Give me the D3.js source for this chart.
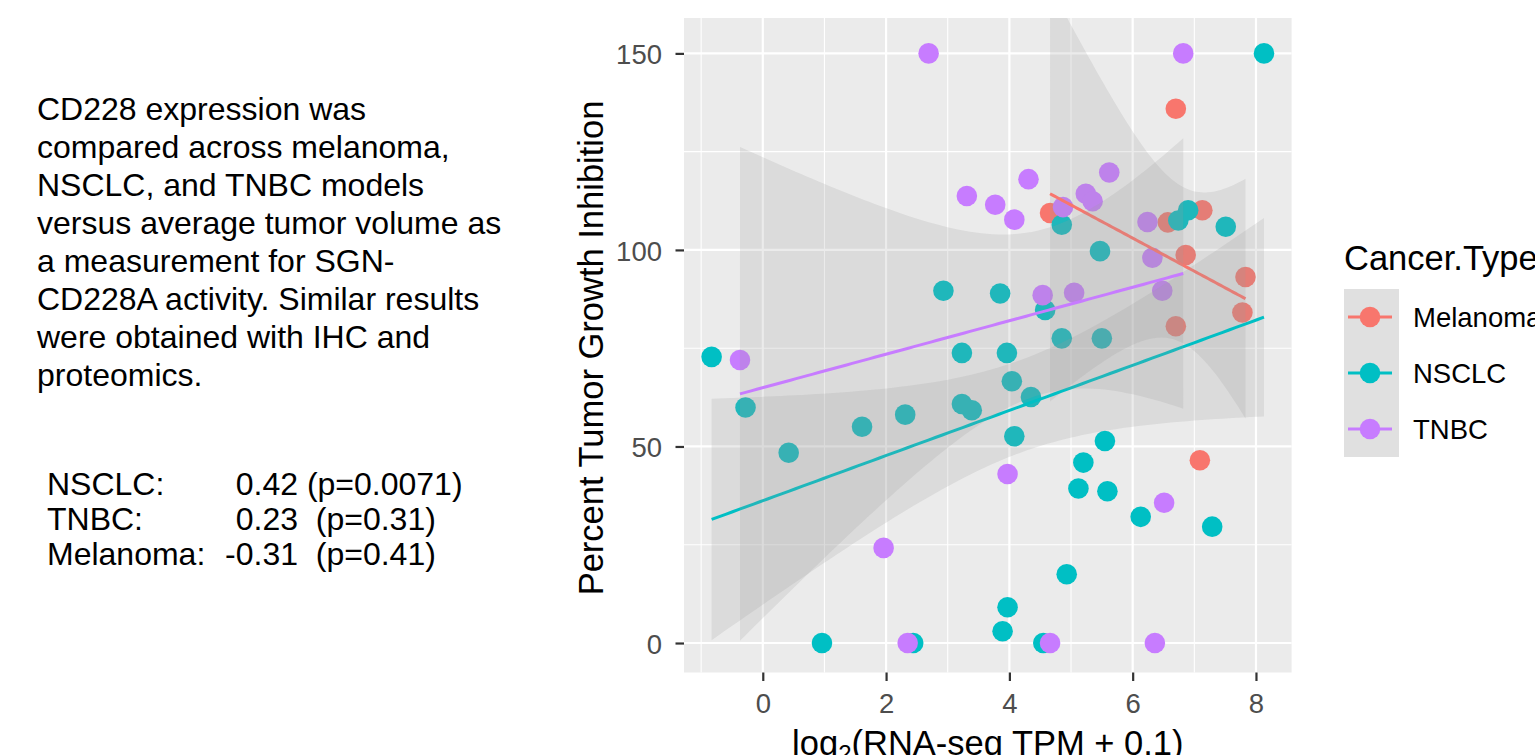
<!DOCTYPE html>
<html>
<head>
<meta charset="utf-8">
<script src="https://cdn.jsdelivr.net/npm/d3@7"></script>
<style>
body { margin: 0; background: #fff; }
svg text { font-family: "Liberation Sans", Arial, sans-serif; }
</style>
</head>
<body>
<div id="chart"></div>
<script>
// values
var cancerTypes = ["Melanoma", "NSCLC", "TNBC"];
var typeColors = ["#F8766D", "#00BFC4", "#C77CFF"];

var melanomaX = [4.66, 6.57, 6.70, 6.70, 6.86, 7.09, 7.13, 7.78, 7.83];
var melanomaY = [109.4, 107.0, 135.9, 80.6, 98.7, 46.5, 110.1, 84.1, 93.1];

var nsclcX = [-0.83, -0.28, 0.42, 0.96, 1.61, 2.31, 2.44, 2.93, 3.23, 3.23, 3.39, 3.85,
  3.96, 4.04, 4.08, 4.35, 3.89, 3.97, 4.55, 4.58, 4.85, 4.85, 4.93, 5.12, 5.20, 5.47,
  5.50, 5.55, 5.59, 6.13, 6.74, 6.90, 7.29, 7.51, 8.13];
var nsclcY = [72.8, 59.9, 48.4, 0, 55.0, 58.1, 0, 89.6, 73.8, 60.8, 59.2, 88.9,
  73.8, 66.6, 52.6, 62.6, 3.0, 9.1, 0, 84.7, 106.4, 77.5, 17.5, 39.3, 45.9, 99.7,
  77.5, 51.4, 38.6, 32.1, 107.5, 110.1, 29.6, 105.9, 150];

var tnbcX = [-0.37, 1.96, 2.35, 2.69, 3.31, 3.77, 3.97, 4.08, 4.31, 4.54, 4.66,
  4.87, 5.05, 5.24, 5.35, 5.62, 6.24, 6.32, 6.36, 6.48, 6.51, 6.82];
var tnbcY = [72.0, 24.2, 0, 150, 113.7, 111.5, 43.0, 107.7, 118.0, 88.5, 0,
  110.9, 89.1, 114.3, 112.4, 119.7, 107.1, 98.0, 0, 89.6, 35.7, 150];

var xTicks = [0, 2, 4, 6, 8];
var xMinor = [-1, 1, 3, 5, 7];
var yTicks = [0, 50, 100, 150];
var yMinor = [25, 75, 125];
var yLimits = [-7.5, 159];

var descLines = ["CD228 expression was", "compared across melanoma,", "NSCLC, and TNBC models",
  "versus average tumor volume as", "a measurement for SGN-", "CD228A activity. Similar results",
  "were obtained with IHC and", "proteomics."];
var statLabels = ["NSCLC:", "TNBC:", "Melanoma:"];
var statR = ["0.42", "0.23", "-0.31"];
var statP = [" (p=0.0071)", "  (p=0.31)", "  (p=0.41)"];

var width = 1535, height = 755;
var panelLeft = 684, panelRight = 1291.6, panelTop = 18, panelBottom = 672.5;

var series = [
  {name: cancerTypes[0], color: typeColors[0], xs: melanomaX, ys: melanomaY},
  {name: cancerTypes[1], color: typeColors[1], xs: nsclcX, ys: nsclcY},
  {name: cancerTypes[2], color: typeColors[2], xs: tnbcX, ys: tnbcY}
];

// ggplot style 5% expansion
function expand(ext) {
  var d = (ext[1] - ext[0]) * 0.05;
  return [ext[0] - d, ext[1] + d];
}

var allX = d3.merge(series.map(function(s) { return s.xs; }));

var xScale = d3.scaleLinear()
  .domain(expand(d3.extent(allX)))
  .range([panelLeft, panelRight]);

var yScale = d3.scaleLinear()
  .domain(yLimits)
  .range([panelBottom, panelTop]);

// 97.5% t quantile (series expansion around the normal quantile)
function tQuantile(df) {
  var z = 1.959964, v = df;
  var z3 = Math.pow(z, 3), z5 = Math.pow(z, 5), z7 = Math.pow(z, 7), z9 = Math.pow(z, 9);
  return z + (z3 + z) / (4 * v)
    + (5 * z5 + 16 * z3 + 3 * z) / (96 * v * v)
    + (3 * z7 + 19 * z5 + 17 * z3 - 15 * z) / (384 * v * v * v)
    + (79 * z9 + 776 * z7 + 1482 * z5 - 1920 * z3 - 945 * z) / (92160 * v * v * v * v);
}

// linear fit with 95% confidence band, 80 points like geom_smooth
function lmBand(xs, ys) {
  var n = xs.length, mx = d3.mean(xs), my = d3.mean(ys);
  var sxx = d3.sum(xs, function(x) { return (x - mx) * (x - mx); });
  var sxy = d3.sum(xs, function(x, i) { return (x - mx) * (ys[i] - my); });
  var b = sxy / sxx, a = my - b * mx;
  var sse = d3.sum(xs, function(x, i) { return Math.pow(ys[i] - a - b * x, 2); });
  var s = Math.sqrt(sse / (n - 2));
  var t = tQuantile(n - 2);
  var ext = d3.extent(xs);
  return d3.range(80).map(function(k) {
    var x = ext[0] + (ext[1] - ext[0]) * k / 79;
    var fit = a + b * x;
    var se = s * Math.sqrt(1 / n + (x - mx) * (x - mx) / sxx);
    return {x: x, y: fit, lo: fit - t * se, hi: fit + t * se};
  });
}

var svg = d3.select("#chart")
  .append("svg")
  .attr("width", width)
  .attr("height", height);

// description text
var desc = svg.append("g");
desc.selectAll("text")
  .data(descLines)
  .enter()
  .append("text")
  .attr("x", 37)
  .attr("y", function(d, i) { return 120 + i * 38; })
  .attr("font-size", 32)
  .attr("fill", "#000")
  .text(function(d) { return d; });

var stats = svg.append("g");
statLabels.forEach(function(lab, i) {
  var y = 494.5 + i * 35;
  stats.append("text")
    .attr("x", 47).attr("y", y)
    .attr("font-size", 32)
    .text(lab);
  stats.append("text")
    .attr("x", 298).attr("y", y)
    .attr("font-size", 32)
    .attr("text-anchor", "end")
    .text(statR[i]);
  stats.append("text")
    .attr("x", 298).attr("y", y)
    .attr("font-size", 32)
    .style("white-space", "pre")
    .text(statP[i]);
});

// panel
svg.append("rect")
  .attr("x", panelLeft)
  .attr("y", panelTop)
  .attr("width", panelRight - panelLeft)
  .attr("height", panelBottom - panelTop)
  .attr("fill", "#EBEBEB");

svg.append("defs").append("clipPath")
  .attr("id", "panel-clip")
  .append("rect")
  .attr("x", panelLeft)
  .attr("y", panelTop)
  .attr("width", panelRight - panelLeft)
  .attr("height", panelBottom - panelTop);

var grid = svg.append("g");

grid.selectAll(".xminor")
  .data(xMinor)
  .enter()
  .append("line")
  .attr("x1", function(d) { return xScale(d); })
  .attr("x2", function(d) { return xScale(d); })
  .attr("y1", panelTop).attr("y2", panelBottom)
  .attr("stroke", "#fff").attr("stroke-width", 1.1);

grid.selectAll(".yminor")
  .data(yMinor)
  .enter()
  .append("line")
  .attr("y1", function(d) { return yScale(d); })
  .attr("y2", function(d) { return yScale(d); })
  .attr("x1", panelLeft).attr("x2", panelRight)
  .attr("stroke", "#fff").attr("stroke-width", 1.1);

grid.selectAll(".xmajor")
  .data(xTicks)
  .enter()
  .append("line")
  .attr("x1", function(d) { return xScale(d); })
  .attr("x2", function(d) { return xScale(d); })
  .attr("y1", panelTop).attr("y2", panelBottom)
  .attr("stroke", "#fff").attr("stroke-width", 2.2);

grid.selectAll(".ymajor")
  .data(yTicks)
  .enter()
  .append("line")
  .attr("y1", function(d) { return yScale(d); })
  .attr("y2", function(d) { return yScale(d); })
  .attr("x1", panelLeft).attr("x2", panelRight)
  .attr("stroke", "#fff").attr("stroke-width", 2.2);

var plot = svg.append("g").attr("clip-path", "url(#panel-clip)");

// points
series.forEach(function(s) {
  plot.append("g")
    .selectAll("circle")
    .data(s.xs.map(function(x, i) { return [x, s.ys[i]]; }))
    .enter()
    .append("circle")
    .attr("cx", function(d) { return xScale(d[0]); })
    .attr("cy", function(d) { return yScale(d[1]); })
    .attr("r", 10.3)
    .attr("fill", s.color);
});

// smooths (ribbon then line, per group)
var band = d3.area()
  .x(function(d) { return xScale(d.x); })
  .y0(function(d) { return yScale(d.lo); })
  .y1(function(d) { return yScale(d.hi); });

var fitLine = d3.line()
  .x(function(d) { return xScale(d.x); })
  .y(function(d) { return yScale(d.y); });

series.forEach(function(s) {
  var fit = lmBand(s.xs, s.ys);
  plot.append("path")
    .attr("d", band(fit))
    .attr("fill", "#999999")
    .attr("fill-opacity", 0.2);
  plot.append("path")
    .attr("d", fitLine(fit))
    .attr("fill", "none")
    .attr("stroke", s.color)
    .attr("stroke-width", 3);
});

// axes
var xAxis = svg.append("g")
  .attr("transform", "translate(0," + panelBottom + ")")
  .call(d3.axisBottom(xScale).tickValues(xTicks).tickSize(8.5).tickPadding(12.5));

var yAxis = svg.append("g")
  .attr("transform", "translate(" + panelLeft + ",0)")
  .call(d3.axisLeft(yScale).tickValues(yTicks).tickSize(8.5).tickPadding(13.5));

[xAxis, yAxis].forEach(function(ax) {
  ax.select(".domain").remove();
  ax.selectAll(".tick line").attr("stroke", "#333333").attr("stroke-width", 2.2);
  ax.selectAll(".tick text")
    .attr("fill", "#4D4D4D")
    .attr("font-size", 27.5)
    .attr("font-family", "Liberation Sans, Arial, sans-serif");
});
yAxis.selectAll(".tick text").attr("dy", "0.38em");

// axis titles (the bottom one runs off the page, as in the source image)
var xTitle = svg.append("text")
  .attr("x", (panelLeft + panelRight) / 2)
  .attr("y", 755)
  .attr("text-anchor", "middle")
  .attr("font-size", 34.5)
  .attr("fill", "#000");
xTitle.append("tspan").text("log");
xTitle.append("tspan").attr("font-size", 24).attr("dy", 7).text("2");
xTitle.append("tspan").attr("dy", -7).text("(RNA-seq TPM + 0.1)");

svg.append("text")
  .attr("transform", "translate(603," + (23.5 + panelBottom) / 2 + ") rotate(-90)")
  .attr("text-anchor", "middle")
  .attr("font-size", 34.5)
  .attr("fill", "#000")
  .text("Percent Tumor Growth Inhibition");

// legend
var legend = svg.append("g");
legend.append("text")
  .attr("x", 1344)
  .attr("y", 270)
  .attr("font-size", 34.5)
  .attr("fill", "#000")
  .text("Cancer.Type");

var keyH = 56, keyTop = 289;
series.forEach(function(s, i) {
  var cy = keyTop + keyH * i + keyH / 2;
  legend.append("rect")
    .attr("x", 1344).attr("y", keyTop + keyH * i)
    .attr("width", 55).attr("height", keyH)
    .attr("fill", "#F2F2F2");
  legend.append("rect")
    .attr("x", 1344).attr("y", keyTop + keyH * i)
    .attr("width", 55).attr("height", keyH)
    .attr("fill", "#999999").attr("fill-opacity", 0.2);
  legend.append("line")
    .attr("x1", 1348).attr("x2", 1392)
    .attr("y1", cy).attr("y2", cy)
    .attr("stroke", s.color).attr("stroke-width", 3);
  legend.append("circle")
    .attr("cx", 1370).attr("cy", cy).attr("r", 10.3)
    .attr("fill", s.color);
  legend.append("text")
    .attr("x", 1413).attr("y", cy)
    .attr("dy", "0.36em")
    .attr("font-size", 27.5)
    .attr("fill", "#000")
    .text(s.name);
});
</script>
</body>
</html>
